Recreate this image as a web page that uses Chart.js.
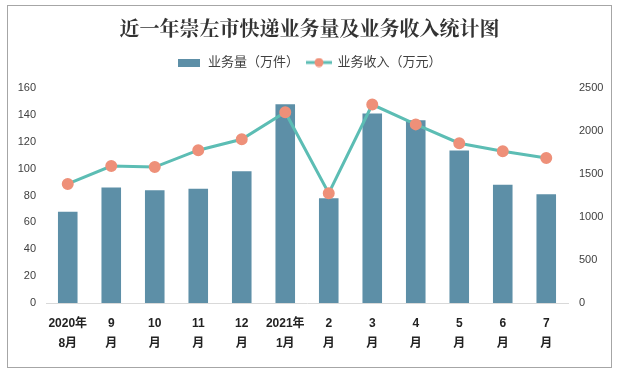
<!DOCTYPE html>
<html>
<head>
<meta charset="utf-8">
<script src="https://cdn.jsdelivr.net/npm/chart.js@4"></script>
<style>
  body { margin: 0; background: #fff; }
  .chart-box {
    position: absolute; left: 7px; top: 5px;
    width: 603px; height: 361px;
    border: 1px solid #a6a6a6;
  }
</style>
</head>
<body>
<div class="chart-box"><canvas id="express-chart"></canvas></div>
<script>
const months = [
  ['2020年', '8月'], ['9', '月'], ['10', '月'], ['11', '月'], ['12', '月'],
  ['2021年', '1月'], ['2', '月'], ['3', '月'], ['4', '月'], ['5', '月'], ['6', '月'], ['7', '月']
];
const volume = [68, 86, 84, 85, 98, 148, 78, 141, 136, 113.5, 88, 81];
const revenue = [1385, 1592, 1581, 1777, 1904, 2219, 1277, 2308, 2077, 1858, 1765, 1685];
const volumeTicks = [0, 160, 20];
const revenueTicks = [0, 2500, 500];

const barColor = '#5d8fa7';
const lineColor = '#5cbdb4';
const dotColor = '#ee9079';
const fontFamily = '"Liberation Sans", "Noto Sans CJK SC", sans-serif';

// small legend icons
function barIcon() {
  const c = document.createElement('canvas');
  c.width = 22; c.height = 8;
  const g = c.getContext('2d');
  g.fillStyle = barColor;
  g.fillRect(0, 0, 22, 8);
  return c;
}
function lineIcon() {
  const c = document.createElement('canvas');
  c.width = 26; c.height = 10;
  const g = c.getContext('2d');
  g.strokeStyle = lineColor;
  g.lineWidth = 3;
  g.beginPath(); g.moveTo(0, 5); g.lineTo(26, 5); g.stroke();
  g.fillStyle = dotColor;
  g.beginPath(); g.arc(13, 5, 4.5, 0, Math.PI * 2); g.fill();
  return c;
}

// leave a bit more room under the legend
const legendGap = {
  id: 'legendGap',
  beforeUpdate(chart) {
    const lg = chart.legend;
    if (lg && !lg._gapPatched) {
      const fit = lg.fit;
      lg.fit = function () { fit.call(this); this.height += 9; };
      lg._gapPatched = true;
    }
  }
};

const ctx = document.getElementById('express-chart').getContext('2d');
new Chart(ctx, {
  data: {
    labels: months,
    datasets: [
      {
        type: 'line',
        label: '业务收入（万元）',
        data: revenue,
        yAxisID: 'y1',
        borderColor: lineColor,
        borderWidth: 3,
        pointBackgroundColor: dotColor,
        pointBorderColor: dotColor,
        pointRadius: 4.5,
        tension: 0,
        order: 0
      },
      {
        type: 'bar',
        label: '业务量（万件）',
        data: volume,
        yAxisID: 'y',
        backgroundColor: barColor,
        barPercentage: 0.45,
        categoryPercentage: 1,
        order: 1
      }
    ]
  },
  plugins: [legendGap],
  options: {
    responsive: true,
    maintainAspectRatio: false,
    animation: false,
    plugins: {
      title: {
        display: true,
        text: '近一年崇左市快递业务量及业务收入统计图',
        color: '#333',
        font: { family: '"Noto Serif CJK SC", "Noto Sans CJK SC", serif', size: 20, weight: 'bold' },
        padding: { top: 10, bottom: 8 }
      },
      legend: {
        display: true,
        labels: {
          color: '#404040',
          font: { family: fontFamily, size: 13 },
          usePointStyle: true,
          pointStyleWidth: 24,
          padding: 8,
          generateLabels: () => [
            { text: '业务量（万件）', pointStyle: barIcon(), fontColor: '#404040', datasetIndex: 1 },
            { text: '业务收入（万元）', pointStyle: lineIcon(), fontColor: '#404040', datasetIndex: 0 }
          ]
        }
      },
      tooltip: { enabled: false }
    },
    scales: {
      x: {
        grid: { display: false, drawTicks: false },
        border: { display: true, color: '#d9d9d9' },
        ticks: {
          color: '#222',
          font: { family: fontFamily, size: 12, weight: 'bold', lineHeight: 1.7 },
          maxRotation: 0,
          autoSkip: false,
          padding: 10
        },
        afterFit: s => { s.height = 64; }
      },
      y: {
        position: 'left',
        min: volumeTicks[0],
        max: volumeTicks[1],
        grid: { display: false, drawTicks: false },
        border: { display: false },
        ticks: { stepSize: volumeTicks[2], color: '#404040', font: { family: fontFamily, size: 11 }, padding: 10 },
        afterFit: s => { s.width = 38; }
      },
      y1: {
        position: 'right',
        min: revenueTicks[0],
        max: revenueTicks[1],
        grid: { display: false, drawTicks: false },
        border: { display: false },
        ticks: {
          stepSize: revenueTicks[2],
          color: '#404040',
          font: { family: fontFamily, size: 11 },
          padding: 11,
          callback: v => String(v)
        },
        afterFit: s => { s.width = 43; }
      }
    }
  }
});
</script>
</body>
</html>
